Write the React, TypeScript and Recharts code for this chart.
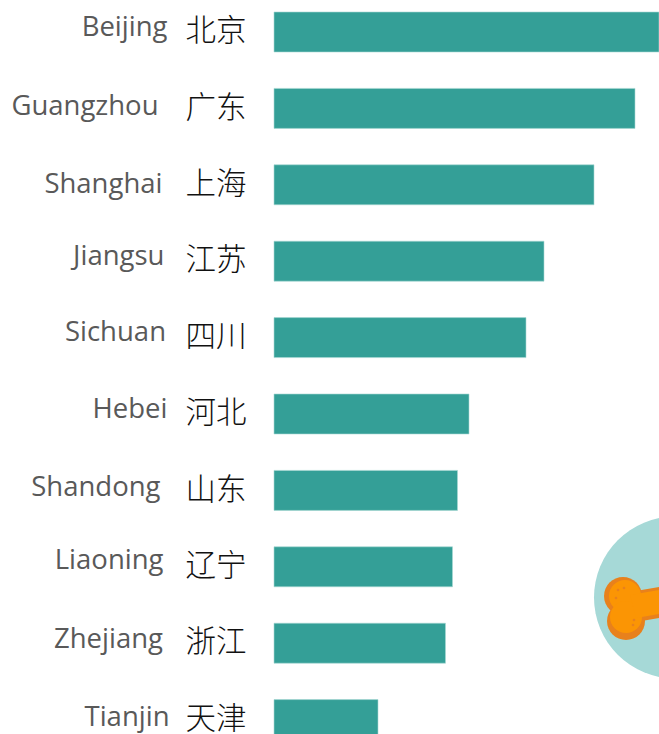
import React from "react";
import { BarChart, Bar, XAxis, YAxis } from "recharts";

const provincesEn = ["Beijing", "Guangzhou", "Shanghai", "Jiangsu", "Sichuan", "Hebei", "Shandong", "Liaoning", "Zhejiang", "Tianjin"];
const provincesZh = ["北京", "广东", "上海", "江苏", "四川", "河北", "山东", "辽宁", "浙江", "天津"];
const values = [385, 361, 320, 270, 252, 195, 183.5, 178.5, 171.5, 104];

// Hand-placed look of the English labels: nudges from the band centre and the right edge.
const labelRight = [167.5, 158.5, 162.5, 164.5, 166, 167.5, 160.5, 163.5, 163, 169.5];
const labelNudge = [-7, -4, -3, -7, -7, -7, -5, -9, -6, -4];

const data = provincesEn.map((en, i) => ({ en, zh: provincesZh[i], value: values[i] }));

const Tick = (props: any) => {
  const { y, index } = props;
  return (
    <g>
      <text x={labelRight[index]} y={y + labelNudge[index]} textAnchor="end" dominantBaseline="central"
        fontFamily="'Open Sans'" fontSize={27.5} fill="#595959">{provincesEn[index]}</text>
      <text x={246.5} y={y - 4} textAnchor="end" dominantBaseline="central"
        fontFamily="'Noto Sans CJK SC'" fontWeight={300} fontSize={30.5} fill="#111111">{provincesZh[index]}</text>
    </g>
  );
};

export default function App() {
  return (
    <div style={{ position: "absolute", left: 0, top: 0, width: 659, height: 734, overflow: "hidden", background: "#fff" }}>
      <div style={{ marginTop: -6 }}>
        <BarChart width={659} height={764} data={data} layout="vertical" barCategoryGap={18}
          margin={{ top: 0, right: 0, bottom: 0, left: 0 }}>
          <XAxis type="number" hide domain={[0, 385]} />
          <YAxis type="category" dataKey="en" width={274} axisLine={false} tickLine={false} tick={<Tick />} interval={0} />
          <Bar dataKey="value" fill="#349f97" stroke="#a8d8d4" strokeWidth={0.6} isAnimationActive={false} />
          <g transform="translate(0 6)">
            <circle cx={675} cy={597.5} r={81} fill="#a6d9d7" />
            <circle cx={623} cy={596} r={19} fill="#e8811c" />
            <circle cx={626} cy={621} r={19} fill="#e8811c" />
            <path d="M630 592 L 659 587 L 659 618 L 636 622 Z" fill="#e8811c" />
            <circle cx={625} cy={596} r={16} fill="#fb9504" />
            <circle cx={626} cy={617} r={16} fill="#fb9504" />
            <path d="M630 595 L 659 590 L 659 614 L 636 618 Z" fill="#fb9504" />
            <circle cx={618} cy={590} r={1.3} fill="#e8811c" />
            <circle cx={624} cy={588} r={1.3} fill="#e8811c" />
            <circle cx={616} cy={598} r={1.3} fill="#e8811c" />
            <circle cx={634} cy={620} r={1.3} fill="#e8811c" />
            <circle cx={633} cy={625} r={1.3} fill="#e8811c" />
          </g>
        </BarChart>
      </div>
    </div>
  );
}
